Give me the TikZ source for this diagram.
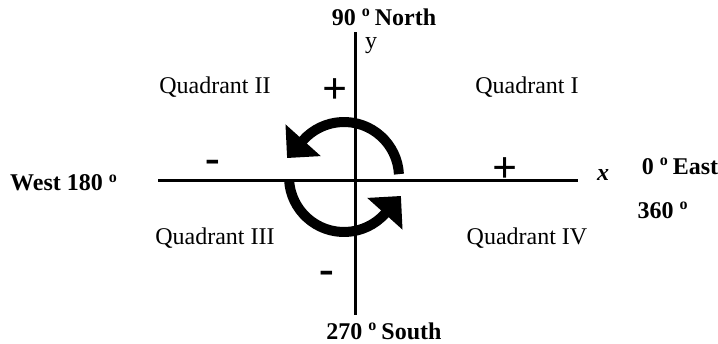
\documentclass[tikz,border=0pt]{standalone}
\usepackage{fontspec}
\setmainfont{Liberation Serif}
\usepackage{tikz}
\usetikzlibrary{positioning,arrows.meta,calc}
\newcommand{\dego}{\textsuperscript{o}}

\begin{document}
\begin{tikzpicture}[x=0.5pt,y=-0.5pt]\begin{scope}[
    axis/.style={draw, line width=1.5pt},
    turn/.style={draw, line width=5pt, -{Triangle[width=23pt,length=12pt]}},
    quad/.style={font=\fontsize{12}{14}\selectfont},
    dirlab/.style={font=\fontsize{12}{14}\selectfont\bfseries},
    sgn/.style={font=\fontsize{22}{22}\selectfont\bfseries, inner sep=0pt, anchor=base}
]
\useasboundingbox (0,0) rectangle (718,343);
% the two axes
\coordinate (xl) at (158,180);
\coordinate (xr) at (578,180);
\coordinate (yt) at (355,32);
\coordinate (yb) at (355,315);
\draw[axis] (xl) -- (xr);
\draw[axis] (yt) -- (yb);
% turning arrows round the origin
\coordinate (c) at (344,177);
\draw[turn] ($(c)+(3:27.5pt)$) arc[start angle=3, end angle=138, radius=27.5pt] -- ++(228:12pt);
\draw[turn] ($(c)+(183:27.5pt)$) arc[start angle=183, end angle=318, radius=27.5pt] -- ++(48:12pt);
% directions
\node[dirlab] (north) at (384,17) {90 \dego\,North};
\node[quad, inner sep=1pt] (ylab) at (371,46) {y};
\node[dirlab] (west) at (64,183) {West 180 \dego};
\node[quad, font=\fontsize{12}{14}\selectfont\bfseries\itshape] (xlab) at (603,175) {x};
\node[dirlab] (east) at (680,166) {0 \dego\,East};
\node[dirlab] (full) at (663,210) {360 \dego};
\node[dirlab] (south) at (384,331) {270 \dego\,South};
% quadrants
\node[quad] (q1) at (527,87) {Quadrant I};
\node[quad] (q2) at (215,87) {Quadrant II};
\node[quad] (q3) at (215,238) {Quadrant III};
\node[quad] (q4) at (527,238) {Quadrant IV};
% signs
\node[sgn] (plusy) at (335,103) {+};
\node[sgn] (plusx) at (505,182) {+};
\node[sgn] (minusx) at (213,172) {-};
\node[sgn] (minusy) at (327,283) {-};\end{scope}
\end{tikzpicture}
\end{document}
